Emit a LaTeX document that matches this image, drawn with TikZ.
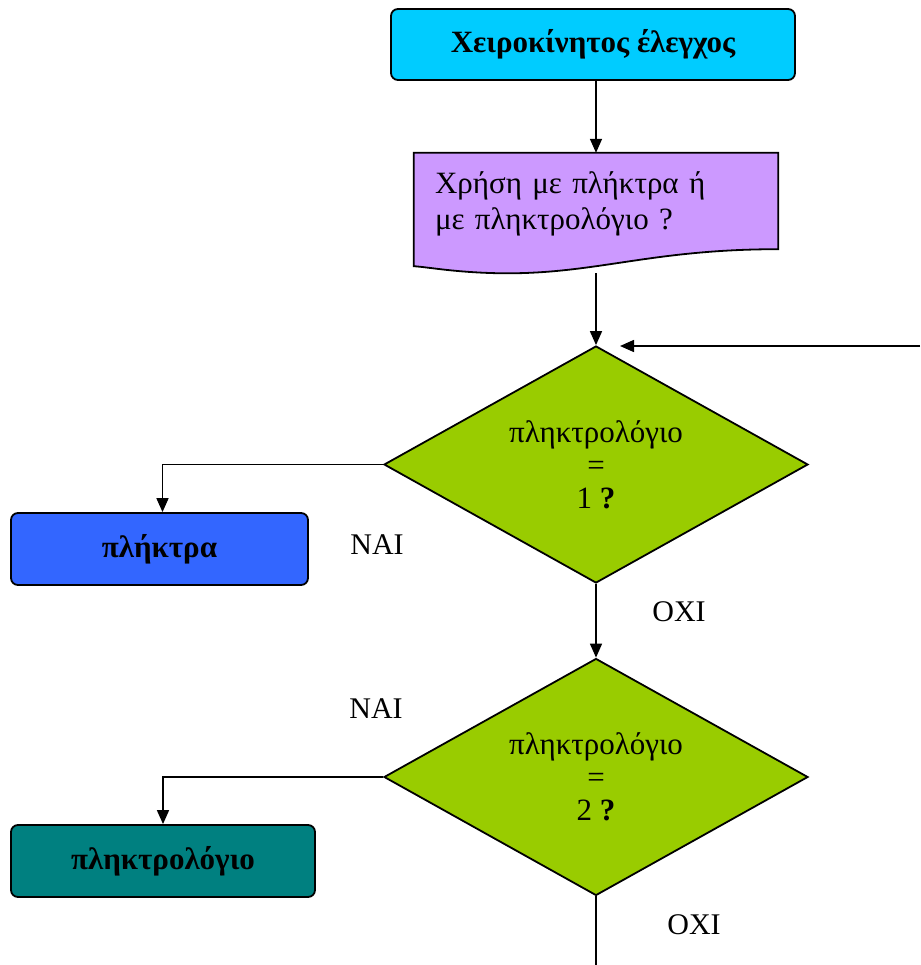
\documentclass[tikz,border=0pt]{standalone}
\usepackage{fontspec}
\setmainfont{Liberation Serif}
\usetikzlibrary{shapes.geometric,arrows.meta,calc}
\tikzset{
    stepbox/.style={
        rectangle,rounded corners=7pt,draw,line width=1.8pt,inner sep=0pt,font=\fontsize{31}{36}\selectfont\bfseries
    },
    decision/.style={
        diamond,draw,line width=1.8pt,fill=ygreen,aspect=1.79,minimum width=424pt,minimum height=237pt,inner sep=0pt,align=center,font=\fontsize{31}{33}\selectfont
    },
    answer/.style={
        font=\fontsize{30}{32}\selectfont,inner sep=0pt
    },
    arr/.style={
        line width=1.6pt,-{Triangle[width=12pt,length=14pt]}
    }
}
\definecolor{ycyan}{HTML}{00CCFF}
\definecolor{ylilac}{HTML}{CC99FF}
\definecolor{ygreen}{HTML}{99CC00}
\definecolor{yblue}{HTML}{3366FF}
\definecolor{yteal}{HTML}{008080}

\begin{document}
\begin{tikzpicture}[x=1pt,y=-1pt]
\useasboundingbox (0,0) rectangle (920,965);
\node[stepbox,fill=ycyan,minimum width=404pt,minimum height=71pt] (start) at (593,44.5) {Χειροκίνητος έλεγχος};
\node[inner xsep=21pt,inner ysep=0pt,text width=322pt,align=left,minimum height=102pt] (query) at (596,204) {};
\fill[ylilac,draw=black,line width=1.8pt] (query.north west) -- (query.north east) -- ($(query.south east)+(0,-6)$)
    .. controls ($(query.south east)+(-130,-6)$) and ($(query.south west)+(180,20)$) .. ($(query.south west)+(83,18)$)
    .. controls ($(query.south west)+(40,17)$) and ($(query.south west)+(15,12)$) .. ($(query.south west)+(0,11)$) -- cycle;
\node[inner xsep=21pt,inner ysep=0pt,text width=322pt,align=left,font=\fontsize{31}{36}\selectfont] at (query) {Χρήση με πλήκτρα ή\\με πληκτρολόγιο ?};
\node[decision] (d1) at (596,464.5) {πληκτρολόγιο\\=\\1 \textbf{?}};
\node[decision] (d2) at (596,777) {πληκτρολόγιο\\=\\2 \textbf{?}};
\node[stepbox,fill=yblue,minimum width=297pt,minimum height=72pt] (keys) at (159.5,549) {πλήκτρα};
\node[stepbox,fill=yteal,minimum width=304pt,minimum height=72pt] (keyboard) at (163,861) {πληκτρολόγιο};
\node[answer] (yes1) at (377,545) {NAI};
\node[answer] (no1) at (679,612) {OXI};
\node[answer] (yes2) at (376,709) {NAI};
\node[answer] (no2) at (694,925) {OXI};
\coordinate (loopin) at (920,346);
\coordinate (exit) at (596,965);

\draw[arr] (start.south -| query.north) -- (query.north);
\draw[arr] ($(query.south)+(0,18)$) -- (d1.north);
\draw[arr] (loopin) -- ($(loopin -| d1.north)+(24,0)$);
\draw[arr] (d1.west) -| ($(keys.north)+(3,0)$);
\draw[arr] (d1.south) -- (d2.north);
\draw[arr] (d2.west) -| (keyboard.north);
\draw[line width=1.6pt] (d2.south) -- (exit);
\end{tikzpicture}
\end{document}
